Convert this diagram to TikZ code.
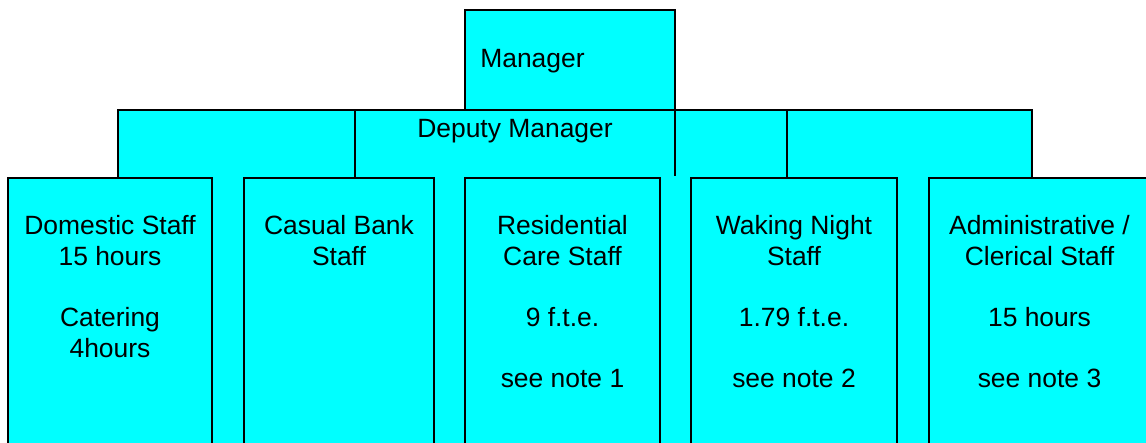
\documentclass[tikz,border=0pt]{standalone}
\usepackage{fontspec}
\setmainfont{Liberation Sans}
\usepackage{xcolor}
\usepackage{tikz}

\definecolor{boxcyan}{RGB}{0,255,255}
\newcommand{\pxu}{0.025cm}
\tikzset{
	orgbox/.style={draw, line width=1.4pt, fill=boxcyan, rectangle, inner sep=0pt, outer sep=0pt, anchor=north west},
	orgline/.style={line width=1.4pt},
	orgtext/.style={align=center, anchor=north, inner sep=0pt, font=\fontsize{18.8}{21.8}\selectfont}
}

\begin{document}
\begin{tikzpicture}[x=\pxu, y=-\pxu]
		\useasboundingbox (0,0) rectangle (1146,442);
		\clip (0,0) rectangle (1146,442);
		
		% cyan area behind the boxes
		\fill[boxcyan] (8,178) rectangle (1160,460);
		\fill[boxcyan] (118,110) rectangle (1032,180);
		
		\node[orgbox, minimum width=210*\pxu, minimum height=100*\pxu] (mgr) at (465,10) {};
		\node[orgtext, anchor=base west] (mgrtxt) at (480,67) {Manager};
		
		% deputy row
		\draw[orgline] (118,178) -- (118,110) -- (1032,110) -- (1032,178);
		\draw[orgline] (355,110) -- (355,178);
		\draw[orgline] (675,110) -- (675,176);
		\draw[orgline] (787,110) -- (787,178);
		\node[orgtext, anchor=base] (deptxt) at (515,137) {Deputy Manager};
		
		% staff boxes
		\node[orgbox, minimum width=204*\pxu, minimum height=290*\pxu] (dom) at (8,178) {};
		\node[orgbox, minimum width=190*\pxu, minimum height=290*\pxu] (cas) at (244,178) {};
		\node[orgbox, minimum width=195*\pxu, minimum height=290*\pxu] (res) at (465,178) {};
		\node[orgbox, minimum width=206*\pxu, minimum height=290*\pxu] (wak) at (691,178) {};
		\node[orgbox, minimum width=220*\pxu, minimum height=290*\pxu] (adm) at (929,178) {};
		
		\node[orgtext] (domtxt) at (110,215) {Domestic Staff\\15 hours\\[21.8pt]Catering\\4hours};
		\node[orgtext] (castxt) at (339,215) {Casual Bank\\Staff};
		\node[orgtext] (restxt) at (562.5,215) {Residential\\Care Staff\\[21.8pt]9 f.t.e.\\[21.8pt]see note 1};
		\node[orgtext] (waktxt) at (794,215) {Waking Night\\Staff\\[21.8pt]1.79 f.t.e.\\[21.8pt]see note 2};
		\node[orgtext] (admtxt) at (1039.5,215) {Administrative /\\Clerical Staff\\[21.8pt]15 hours\\[21.8pt]see note 3};
	\end{tikzpicture}
\end{document}
